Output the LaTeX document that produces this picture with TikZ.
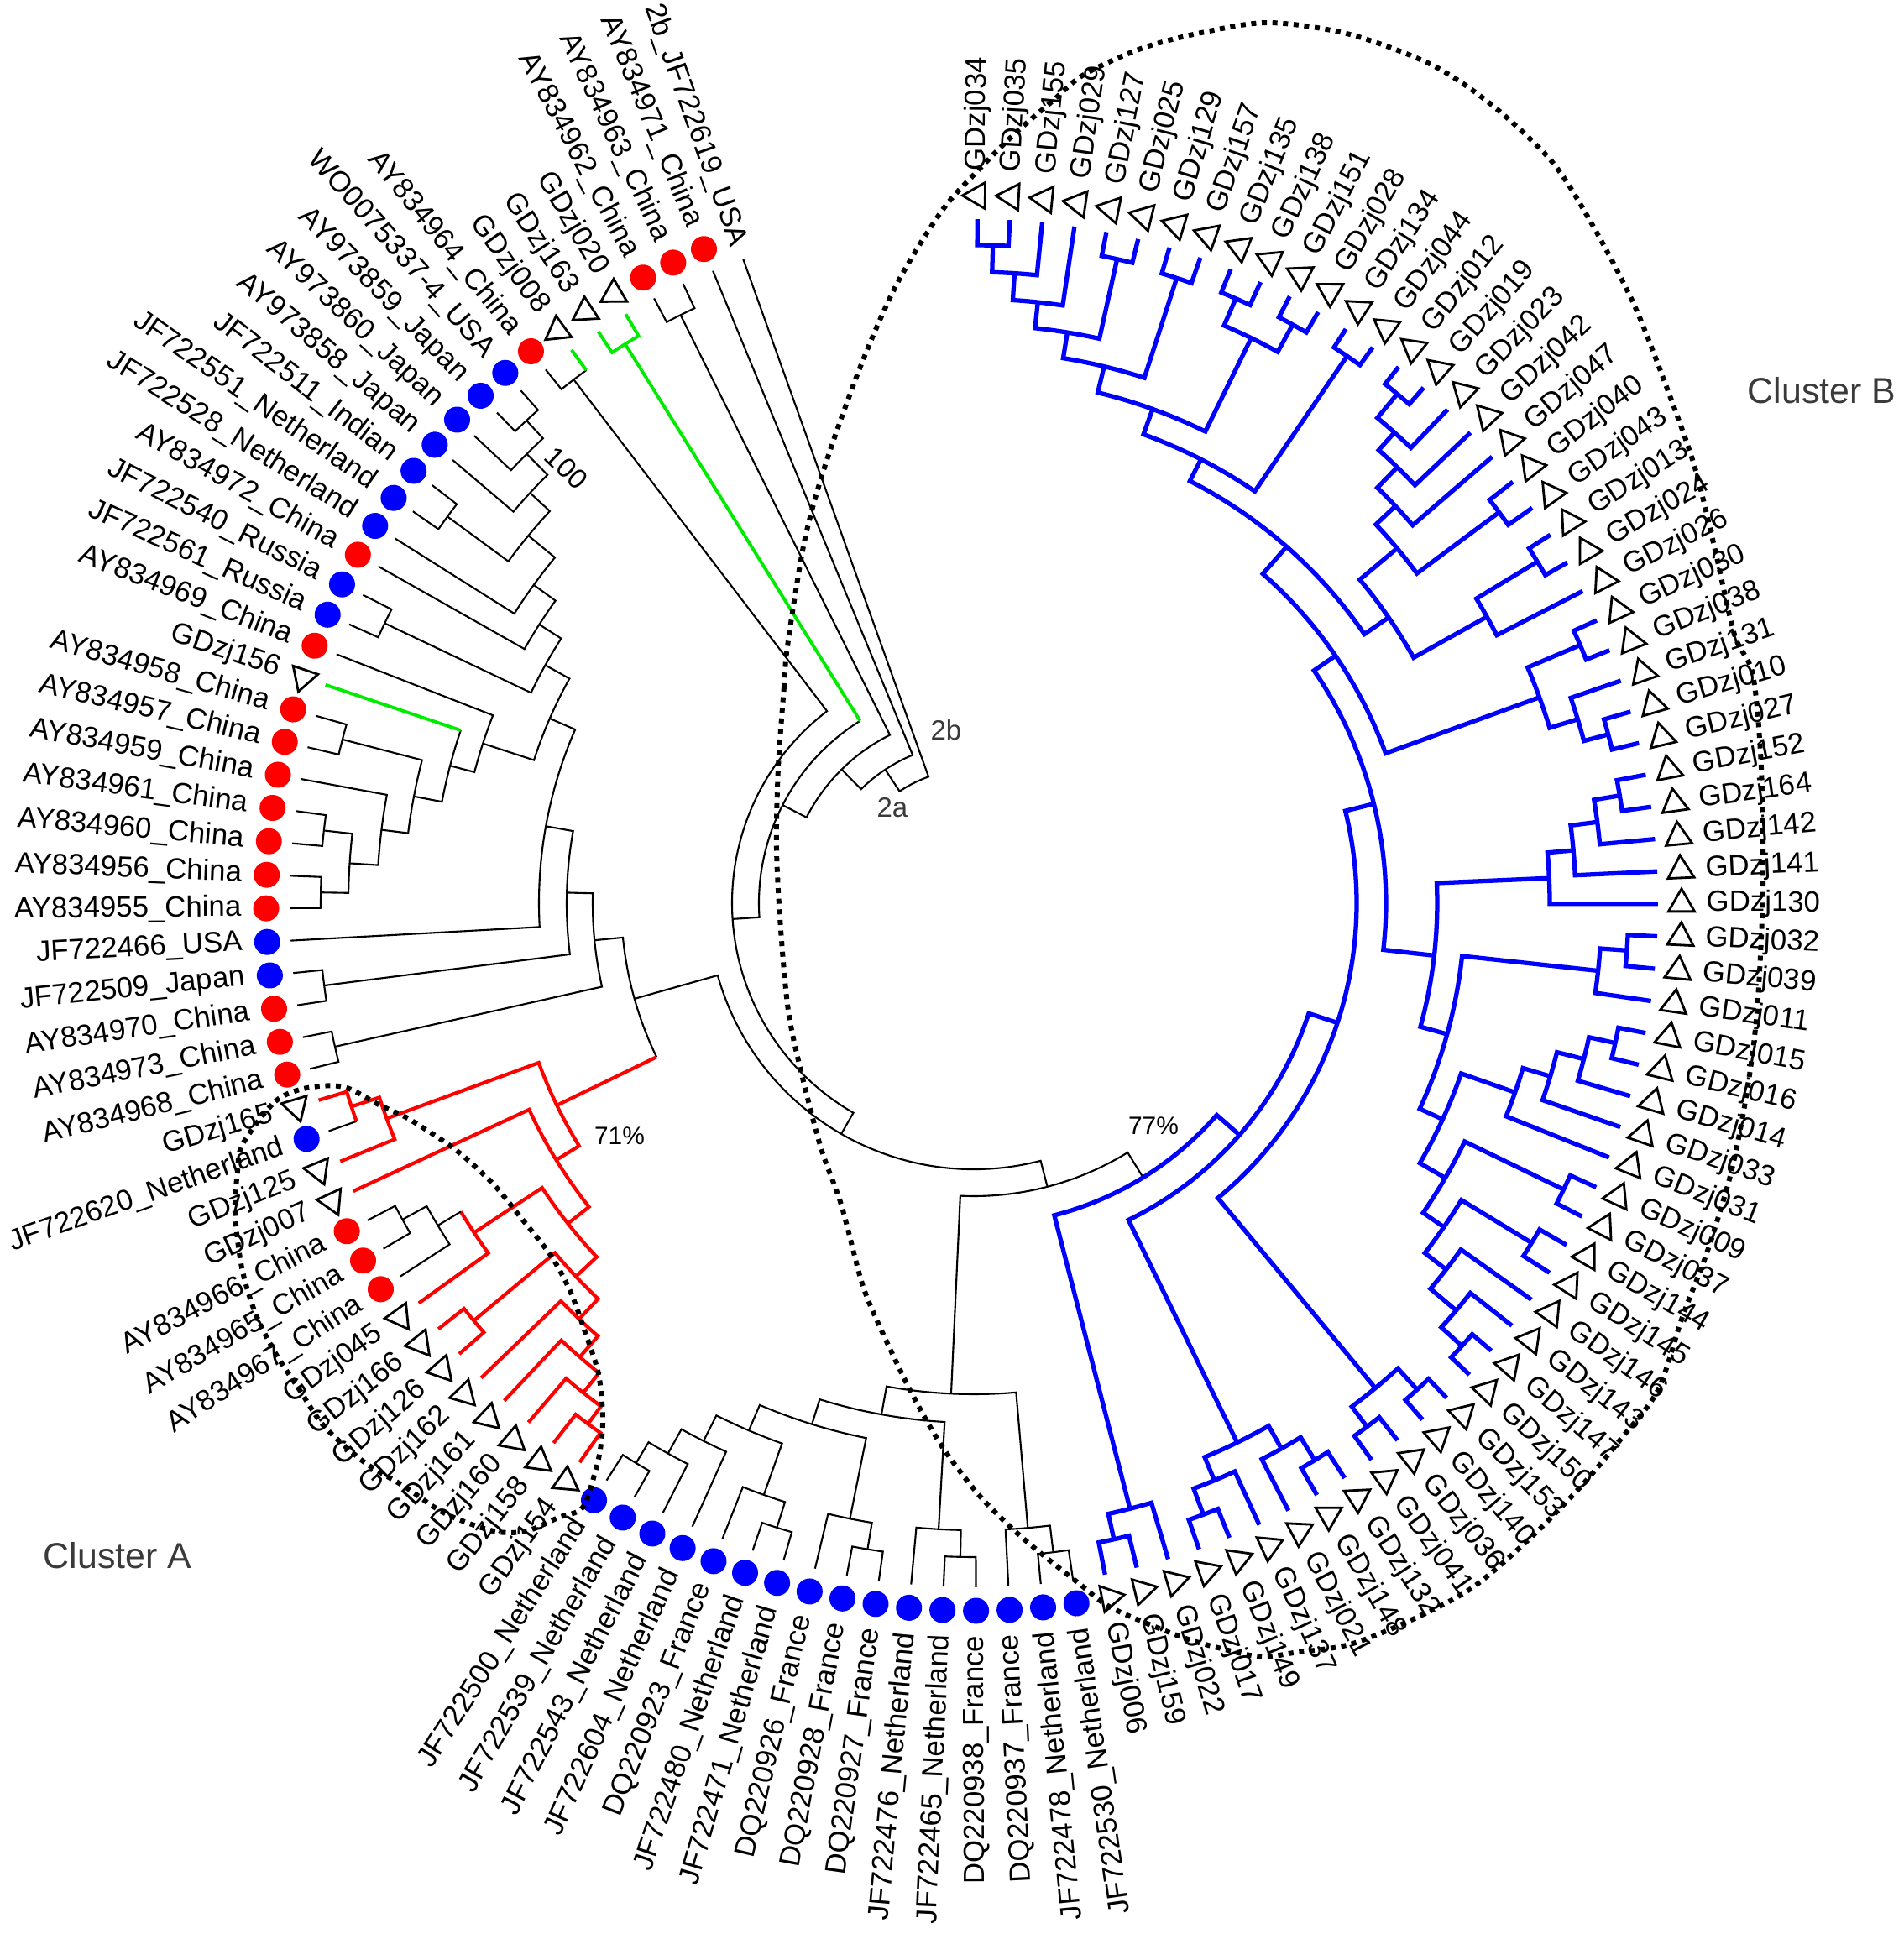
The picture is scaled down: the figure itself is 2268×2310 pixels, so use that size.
\documentclass[tikz,border=0pt]{standalone}
\usepackage{fontspec}
\setmainfont{Liberation Sans}
\usetikzlibrary{shapes.geometric}

\definecolor{treeblue}{RGB}{0,0,255}
\definecolor{treered}{RGB}{255,0,0}
\definecolor{treegreen}{RGB}{0,235,0}
\definecolor{labelgray}{RGB}{58,58,58}

% one bracket: radius, first child, last child (leaf index units), their radii
\newcommand\clade[6][]{%
  \pgfmathsetmacro\tA{109.7+2.72*(#3)}%
  \pgfmathsetmacro\tB{109.7+2.72*(#4)}%
  \draw[bk,#1] (\tA:#5) -- (\tA:#2) arc[start angle=\tA,end angle=\tB,radius=#2] -- (\tB:#6);}
\newcommand\brstem[4][]{%
  \pgfmathsetmacro\tA{109.7+2.72*(#2)}%
  \draw[bk,#1] (\tA:#3) -- (\tA:#4);}

\tikzset{
  bk/.style={line width=0.6pt},
  bu/.style={draw=treeblue,line width=1.5pt},
  rd/.style={draw=treered,line width=1.2pt},
  gn/.style={draw=treegreen,line width=1.1pt},
  mkr/.style={circle,fill=treered,minimum size=3.1mm,inner sep=0pt},
  mkb/.style={circle,fill=treeblue,minimum size=3.1mm,inner sep=0pt},
  mkt/.style={regular polygon,regular polygon sides=3,draw,line width=0.8pt,minimum size=3.6mm,inner sep=0pt},
  mkn/.style={inner sep=0pt,minimum size=0pt},
  leaf/.style={font=\fontsize{9.9}{11}\selectfont,inner sep=0pt},
  note/.style={font=\fontsize{9.4}{11}\selectfont,text=labelgray,inner sep=0pt},
  support/.style={font=\fontsize{8.5}{10}\selectfont,inner sep=0pt},
  cluster/.style={font=\fontsize{12.2}{14}\selectfont,text=labelgray,inner sep=0pt},
  ring/.style={line width=1.7pt,dash pattern=on 1.7pt off 1.9pt},
}

\begin{document}
\begin{tikzpicture}[x=0.1mm,y=0.1mm]
\useasboundingbox (-1160,-1234) rectangle (1108,1076);

%root and outgroups
\clade{160}{0}{5.09}{815}{191}
\clade{191}{1}{9.18}{815}{224}
\clade{224}{2.5}{15.86}{783}{256}
\clade{783}{2}{3}{815}{815}
\clade{256}{4.5}{27.23}{256}{288}
\brstem[gn]{4.5}{256}{785}
\clade[gn]{785}{4}{5}{815}{815}
\clade{288}{6.5}{47.95}{785}{317}
\clade{785}{6}{7}{785}{815}
\brstem[gn]{6}{785}{815}
\clade{317}{31.63}{64.28}{420}{349}
\clade{349}{57.96}{70.58}{585}{384}
\clade{420}{27.9}{35.355}{454}{420}
\brstem[rd]{35.355}{420}{552}

%upper left clade
\clade{454}{25.3}{30.5}{485}{780}
\clade{780}{30}{31}{815}{815}
\clade{485}{22.096}{28.5}{518}{780}
\clade{780}{28}{29}{815}{815}
\clade{518}{17.19}{27}{551}{815}
\clade{551}{15.164}{19.22}{584}{615}
\clade{584}{13.83}{16.5}{615}{777}
\clade{777}{16}{17}{815}{815}
\clade{615}{12.656}{15}{647}{815}
\clade{647}{11.3125}{14}{688}{815}
\clade{688}{10.125}{12.5}{720}{778}
\clade{778}{12}{13}{815}{815}
\clade{720}{9.25}{11}{755}{815}
\clade{755}{8.5}{10}{784}{815}
\clade{784}{8}{9}{815}{815}
\clade{615}{18}{20.4375}{815}{645}
\clade{645}{19}{21.875}{645}{679}
\brstem[gn]{19}{645}{815}
\clade{679}{20.5}{23.25}{777}{711}
\clade{777}{20}{21}{815}{815}
\clade{711}{22}{24.5}{815}{745}
\clade{745}{23.5}{25.5}{779}{778}
\clade{779}{23}{24}{815}{815}
\clade{778}{25}{26}{815}{815}

%cluster A
\clade[rd]{552}{33.25}{37.46}{745}{584}
\clade[rd]{745}{32.5}{34}{780}{815}
\clade[rd]{780}{32}{33}{815}{780}
\brstem{33}{780}{815}
\clade[rd]{584}{35}{39.92}{815}{616}
\clade[rd]{616}{38.125}{41.72}{713}{650}
\clade[rd]{713}{37.25}{39}{713}{815}
\brstem{37.25}{713}{745}
\clade{745}{36.5}{38}{778}{815}
\clade{778}{36}{37}{815}{815}
\clade[rd]{650}{40.5}{42.9375}{776}{683}
\clade[rd]{776}{40}{41}{815}{815}
\clade[rd]{683}{42}{43.875}{815}{716}
\clade[rd]{716}{43}{44.75}{815}{746}
\clade[rd]{746}{44}{45.5}{815}{772}
\clade[rd]{772}{45}{46}{815}{815}

%bottom clade
\clade{585}{55.17}{60.75}{619}{747}
\clade{619}{52.59}{57.75}{650}{747}
\clade{650}{50.44}{54.75}{683}{748}
\clade{683}{49.125}{51.75}{717}{748}
\clade{717}{48.25}{50}{750}{815}
\clade{750}{47.5}{49}{779}{815}
\clade{779}{47}{48}{815}{815}
\clade{748}{51}{52.5}{815}{780}
\clade{780}{52}{53}{815}{815}
\clade{748}{54}{55.5}{815}{780}
\clade{780}{55}{56}{815}{815}
\clade{747}{57}{58.5}{815}{779}
\clade{779}{58}{59}{815}{815}
\clade{747}{60}{61.5}{815}{779}
\clade{779}{61}{62}{815}{815}

%cluster B
\clade[bu]{384}{64.25}{76.91}{745}{420}
\clade[bu]{745}{63.5}{65}{776}{815}
\clade[bu]{776}{63}{64}{815}{815}
\clade[bu]{420}{68.5}{85.325}{715}{456}
\clade[bu]{715}{67.25}{69.75}{745}{746}
\clade[bu]{745}{66.5}{68}{778}{815}
\clade[bu]{778}{66}{67}{815}{815}
\clade[bu]{746}{69}{70.5}{815}{778}
\clade[bu]{778}{70}{71}{815}{815}
\clade[bu]{456}{73.5}{97.15}{750}{491}
\clade[bu]{750}{72.5}{74.5}{780}{784}
\clade[bu]{780}{72}{73}{815}{815}
\clade[bu]{784}{74}{75}{815}{815}
\clade[bu]{491}{89.636}{104.66}{552}{522}
\clade[bu]{552}{86.335}{92.9375}{585}{686}
\clade[bu]{585}{82.92}{89.75}{615}{748}
\clade[bu]{615}{80.906}{84.9375}{650}{683}
\clade[bu]{650}{79.3125}{82.5}{680}{781}
\clade[bu]{781}{82}{83}{815}{815}
\clade[bu]{680}{78.125}{80.5}{712}{778}
\clade[bu]{778}{80}{81}{815}{815}
\clade[bu]{712}{77.25}{79}{752}{815}
\clade[bu]{752}{76.5}{78}{785}{815}
\clade[bu]{785}{76}{77}{815}{815}
\clade[bu]{683}{84}{85.875}{815}{717}
\clade[bu]{717}{85}{86.75}{815}{750}
\clade[bu]{750}{86}{87.5}{815}{782}
\clade[bu]{782}{87}{88}{815}{815}
\clade[bu]{748}{89}{90.5}{815}{780}
\clade[bu]{780}{90}{91}{815}{815}
\clade[bu]{686}{92}{93.875}{815}{717}
\clade[bu]{717}{93}{94.75}{815}{749}
\clade[bu]{749}{94}{95.5}{815}{780}
\clade[bu]{780}{95}{96}{815}{815}
\clade[bu]{522}{99.375}{109.94}{717}{565}
\clade[bu]{717}{98.25}{100.5}{752}{785}
\clade[bu]{752}{97.5}{99}{782}{815}
\clade[bu]{782}{97}{98}{815}{815}
\clade[bu]{785}{100}{101}{815}{815}
\clade[bu]{565}{104.73}{115.148}{600}{594}
\clade[bu]{600}{102.75}{106.72}{700}{658}
\clade[bu]{700}{102}{103.5}{815}{785}
\clade[bu]{785}{103}{104}{815}{815}
\clade[bu]{658}{105.5}{107.9375}{780}{690}
\clade[bu]{780}{105}{106}{815}{815}
\clade[bu]{690}{107}{108.875}{815}{724}
\clade[bu]{724}{108}{109.75}{815}{752}
\clade[bu]{752}{109}{110.5}{815}{789}
\clade[bu]{789}{110}{111}{815}{815}
\clade[bu]{594}{112.5}{117.797}{789}{626}
\clade[bu]{789}{112}{113}{815}{815}
\clade[bu]{626}{115.5}{120.094}{750}{658}
\clade[bu]{750}{114.5}{116.5}{787}{785}
\clade[bu]{787}{114}{115}{815}{815}
\clade[bu]{785}{116}{117}{815}{815}
\clade[bu]{658}{118.5}{121.6875}{783}{689}
\clade[bu]{783}{118}{119}{815}{815}
\clade[bu]{689}{120.5}{122.875}{786}{720}
\clade[bu]{786}{120}{121}{815}{815}
\clade[bu]{720}{122}{123.75}{815}{752}
\clade[bu]{752}{123}{124.5}{815}{784}
\clade[bu]{784}{124}{125}{815}{815}

%leaves
\foreach \i/\nm/\mk in {0/2b\_JF722619\_USA/mkn, 1/AY834971\_China/mkr,
  2/AY834963\_China/mkr, 3/AY834962\_China/mkr, 4/GDzj020/mkt, 5/GDzj163/mkt,
  6/GDzj008/mkt, 7/AY834964\_China/mkr, 8/WO0075337-4\_USA/mkb,
  9/AY973859\_Japan/mkb, 10/AY973860\_Japan/mkb, 11/AY973858\_Japan/mkb,
  12/JF722511\_Indian/mkb, 13/JF722551\_Netherland/mkb, 14/JF722528\_Netherland/mkb,
  15/AY834972\_China/mkr, 16/JF722540\_Russia/mkb, 17/JF722561\_Russia/mkb,
  18/AY834969\_China/mkr, 19/GDzj156/mkt, 20/AY834958\_China/mkr,
  21/AY834957\_China/mkr, 22/AY834959\_China/mkr, 23/AY834961\_China/mkr,
  24/AY834960\_China/mkr, 25/AY834956\_China/mkr, 26/AY834955\_China/mkr,
  27/JF722466\_USA/mkb, 28/JF722509\_Japan/mkb, 29/AY834970\_China/mkr,
  30/AY834973\_China/mkr, 31/AY834968\_China/mkr, 32/GDzj165/mkt,
  33/JF722620\_Netherland/mkb, 34/GDzj125/mkt, 35/GDzj007/mkt,
  36/AY834966\_China/mkr, 37/AY834965\_China/mkr, 38/AY834967\_China/mkr,
  39/GDzj045/mkt, 40/GDzj166/mkt, 41/GDzj126/mkt, 42/GDzj162/mkt, 43/GDzj161/mkt,
  44/GDzj160/mkt, 45/GDzj158/mkt, 46/GDzj154/mkt,
  47/JF722500\_Netherland/mkb, 48/JF722539\_Netherland/mkb, 49/JF722543\_Netherland/mkb,
  50/JF722604\_Netherland/mkb, 51/DQ220923\_France/mkb, 52/JF722480\_Netherland/mkb,
  53/JF722471\_Netherland/mkb, 54/DQ220926\_France/mkb, 55/DQ220928\_France/mkb,
  56/DQ220927\_France/mkb, 57/JF722476\_Netherland/mkb, 58/JF722465\_Netherland/mkb,
  59/DQ220938\_France/mkb, 60/DQ220937\_France/mkb, 61/JF722478\_Netherland/mkb,
  62/JF722530\_Netherland/mkb}{
  \pgfmathsetmacro\lang{109.7+2.72*\i}
  \pgfmathsetmacro\lrad{\i==0 ? 832 : 872}
  \node[\mk,rotate=\lang] at (\lang:843) {};
  \node[leaf,anchor=east,rotate=\lang-180] at (\lang:\lrad) {\nm};
}
\foreach \i/\nm in {63/006, 64/159, 65/022, 66/017, 67/149, 68/137, 69/021,
  70/148, 71/132, 72/041, 73/036, 74/140, 75/153, 76/150, 77/147, 78/143,
  79/146, 80/145, 81/144, 82/037, 83/009, 84/031, 85/033, 86/014, 87/016,
  88/015, 89/011, 90/039, 91/032, 92/130, 93/141, 94/142, 95/164, 96/152,
  97/027, 98/010, 99/131, 100/038, 101/030, 102/026, 103/024, 104/013,
  105/043, 106/040, 107/047, 108/042, 109/023, 110/019, 111/012, 112/044,
  113/134, 114/028, 115/151, 116/138, 117/135, 118/157, 119/129, 120/025,
  121/127, 122/029, 123/155, 124/035, 125/034}{
  \pgfmathsetmacro\lang{109.7+2.72*\i}
  \node[mkt,rotate=\lang] at (\lang:843) {};
  \node[leaf,anchor=west,rotate=\lang] at (\lang:872) {GDzj\nm};
}

%support values and group names
\node[note] at (-33,206) {2b};
\node[note] at (-97,114) {2a};
\node[support] at (214,-265) {77\%};
\node[support] at (-422,-277) {71\%};
\node[support,font=\fontsize{9.5}{11}\selectfont,rotate=-44] at (-485,518) {100};
\node[cluster,anchor=west] at (-1109,-777) {Cluster A};
\node[cluster,anchor=west] at (921,611) {Cluster B};

%dotted outlines, pixel coordinates
\begin{scope}[shift={(-1160,1076)},yscale=-1]
\draw[ring] plot[smooth cycle] coordinates {(938,770) (934,818) (927,915)
  (925,1011) (930,1107) (939,1204) (954,1276) (978,1368) (1002,1435) (1026,1526)
  (1045,1574) (1084,1656) (1122,1723) (1166,1781) (1209,1824) (1243,1853)
  (1286,1887) (1325,1916) (1407,1950) (1455,1964) (1503,1974) (1541,1969)
  (1608,1959) (1681,1930) (1753,1892) (1821,1834) (1883,1771) (1931,1714)
  (1975,1656) (2004,1569) (2033,1493) (2062,1397) (2081,1300) (2093,1204)
  (2100,1059) (2098,915) (2088,804) (2066,756) (2042,651) (2018,554) (1984,458)
  (1946,362) (1898,270) (1849,193) (1777,125) (1705,77) (1608,41) (1512,27)
  (1431,39) (1359,58) (1291,89) (1253,121) (1209,159) (1166,202) (1122,251)
  (1069,337) (1026,434) (983,554) (958,646)};
\draw[ring] plot[smooth cycle] coordinates {(289,1363) (328,1312) (366,1296)
  (410,1295) (453,1317) (487,1333) (543,1370) (587,1410) (620,1450) (657,1497)
  (680,1540) (697,1587) (713,1637) (718,1687) (716,1720) (710,1750) (694,1796)
  (665,1808) (627,1824) (588,1824) (530,1803) (482,1771) (434,1742) (386,1699)
  (357,1656) (328,1612) (304,1564) (288,1510) (280,1445) (283,1395)};
\end{scope}
\end{tikzpicture}
\end{document}
